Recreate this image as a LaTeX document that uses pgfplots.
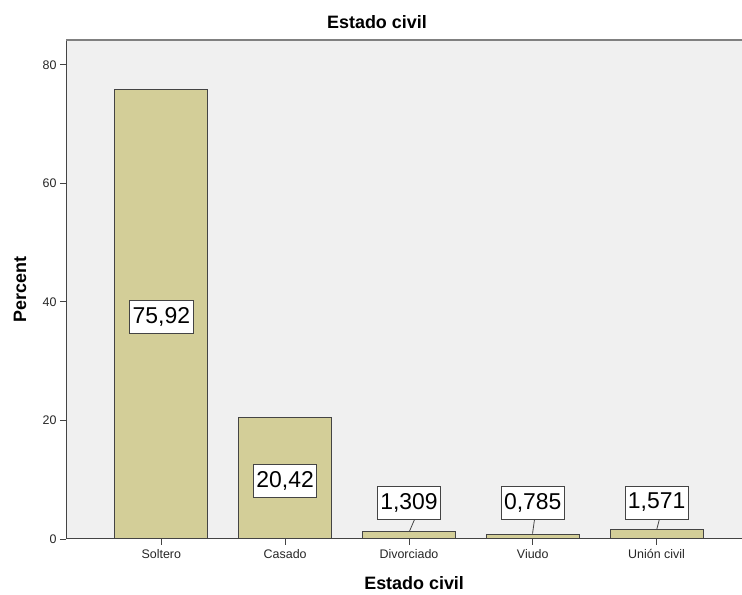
\documentclass[border=0pt]{standalone}
\usepackage{fontspec}
\setmainfont{Liberation Sans}
\usepackage{pgfplots}
\usepackage{pgfplotstable}
\pgfplotsset{compat=1.18}
\definecolor{barfill}{HTML}{D3CE98}
\definecolor{bgfill}{HTML}{F0F0F0}
\definecolor{edge}{HTML}{444444}
\pgfplotstableread{
x y
0 75.92
1 20.42
2 1.309
3 0.785
4 1.571
}\bars
\pgfplotstableread{
x y label
0 37.45 75,92
1 9.79 20,42
2 6.16 1,309
3 6.16 0,785
4 6.16 1,571
}\labels
\begin{document}
\begin{tikzpicture}[x=1bp,y=1bp]
\begin{axis}[
  at={(66bp,56bp)}, anchor=south west,
  scale only axis, width=676bp, height=499bp,
  xmin=-0.77, xmax=4.69, ymin=0, ymax=84.2,
  axis background/.style={fill=bgfill},
  axis x line*=bottom, axis y line*=left,
  axis line style={edge, line width=1pt},
  x axis line style={-}, y axis line style={-},
  xtick=data, xticklabels={Soltero,Casado,Divorciado,Viudo,Unión civil},
  ytick={0,20,40,60,80},
  tick align=outside, major tick length=6bp,
  tick style={edge, line width=0.9pt},
  /pgf/number format/assume math mode=true,
  ticklabel style={font=\fontsize{12.5}{14}\selectfont, text=black!85},
  xticklabel style={yshift=-1bp},
  title={\textbf{Estado civil}},
  title style={font=\fontsize{18}{20}\selectfont, at={(rel axis cs:0.46,1)}, yshift=2bp, anchor=south},
  xlabel={\textbf{Estado civil}},
  xlabel style={font=\fontsize{18}{20}\selectfont, at={(rel axis cs:0.515,-0.088)}, anchor=center},
  ylabel={\textbf{Percent}},
  ylabel style={font=\fontsize{18}{20}\selectfont, at={(rel axis cs:-0.068,0.5)}, anchor=center},
  after end axis/.code={\draw[gray, line width=1.8pt] (rel axis cs:0,1) -- (rel axis cs:1,1);},
  clip=false,
]
\addplot[ybar, bar width=93bp, fill=barfill, draw=edge, line width=1pt] table[x=x,y=y] {\bars};
\addplot[edge, line width=0.8pt, forget plot] coordinates {(2.005,1.35) (2.045,3.29)};
\addplot[edge, line width=0.8pt, forget plot] coordinates {(2.998,0.9) (3.014,3.29)};
\addplot[edge, line width=0.8pt, forget plot] coordinates {(4.002,1.65) (4.022,3.29)};
\addplot[only marks, mark=none, point meta=explicit symbolic,
  nodes near coords,
  nodes near coords style={anchor=center, draw=edge, fill=white, line width=0.8pt,
    font=\fontsize{23}{24}\selectfont, inner xsep=3bp, inner ysep=0pt,
    minimum height=33bp, text=black}]
  table[x=x,y=y,meta=label] {\labels};
\end{axis}
\pgfresetboundingbox
\useasboundingbox (0,0) rectangle (742,595);
\end{tikzpicture}
\end{document}
